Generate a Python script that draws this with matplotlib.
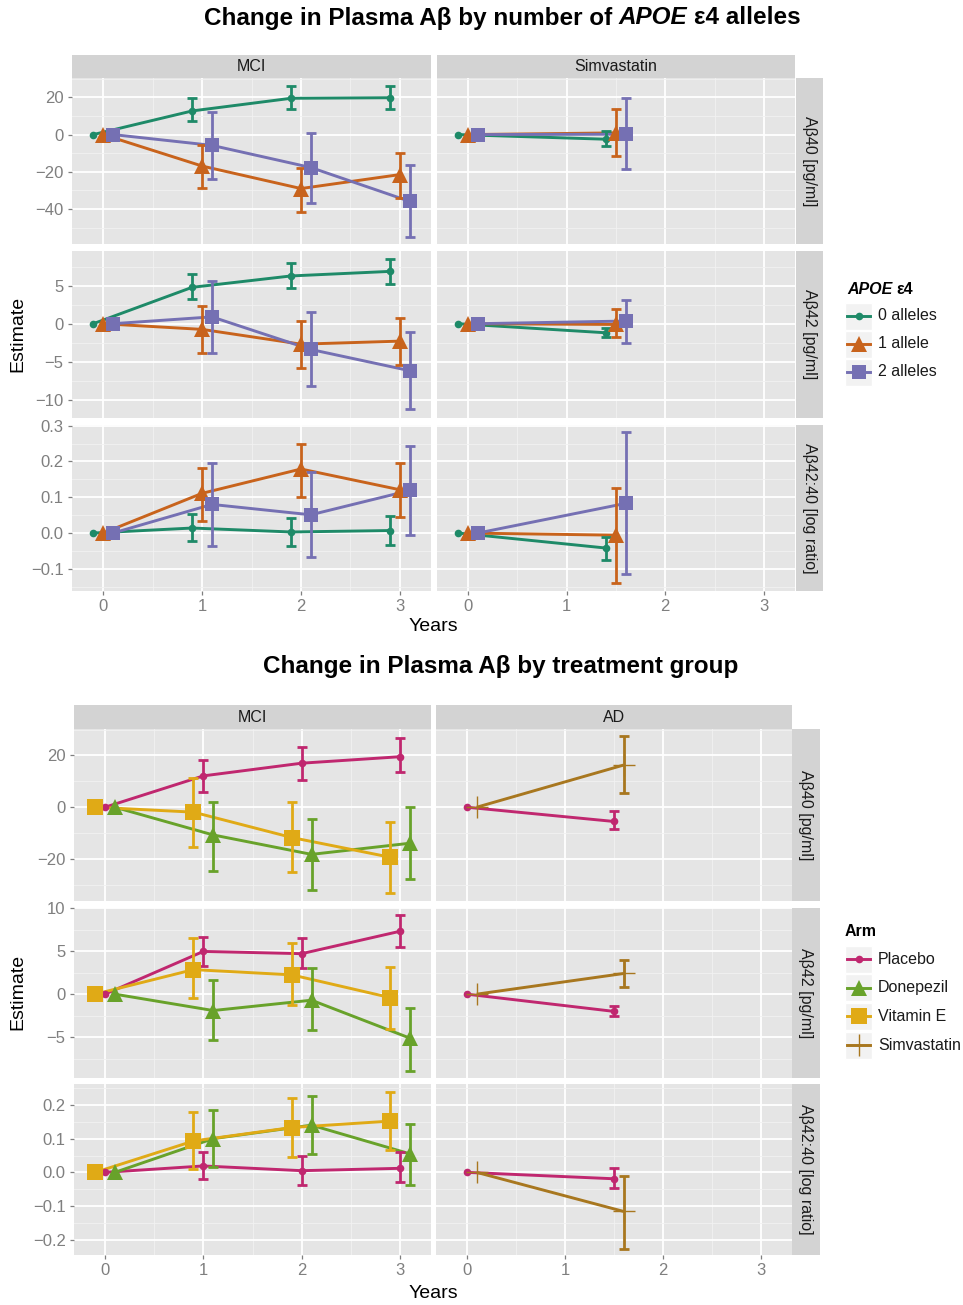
import matplotlib
matplotlib.use('Agg')
import matplotlib.pyplot as plt
from matplotlib.patches import Rectangle
import numpy as np

# ---------------- DATA ----------------
years = [0, 1, 2, 3]
simva_years = [0, 1.5]
measures = ["Aβ40 [pg/ml]", "Aβ42 [pg/ml]", "Aβ42:40 [log ratio]"]

top_cols = ["MCI", "Simvastatin"]
apoe_labels = ["0 alleles", "1 allele", "2 alleles"]

# MCI, by APOE e4 alleles: rows = Ab40, Ab42, ratio
apoe0_mci_est = [[0, 12.7, 19.5, 19.8], [0, 4.8, 6.3, 6.9], [0, 0.014, 0.003, 0.007]]
apoe0_mci_lo = [[0, 7.3, 13.8, 13.5], [0, 3.3, 4.7, 5.3], [0, -0.023, -0.036, -0.034]]
apoe0_mci_hi = [[0, 19.4, 26.0, 26.3], [0, 6.5, 8.0, 8.6], [0, 0.054, 0.043, 0.048]]

apoe1_mci_est = [[0, -16.9, -29.0, -21.5], [0, -0.75, -2.7, -2.3], [0, 0.111, 0.179, 0.121]]
apoe1_mci_lo = [[0, -28.7, -41.6, -33.9], [0, -3.8, -5.8, -5.5], [0, 0.033, 0.100, 0.046]]
apoe1_mci_hi = [[0, -5.8, -17.7, -9.7], [0, 2.3, 0.4, 0.8], [0, 0.181, 0.250, 0.197]]

apoe2_mci_est = [[0, -5.8, -17.7, -35.9], [0, 0.9, -3.4, -6.2], [0, 0.080, 0.051, 0.119]]
apoe2_mci_lo = [[0, -23.7, -36.8, -55.0], [0, -3.9, -8.2, -11.3], [0, -0.035, -0.067, -0.005]]
apoe2_mci_hi = [[0, 12.2, 1.1, -16.1], [0, 5.6, 1.5, -1.1], [0, 0.196, 0.170, 0.244]]

# Simvastatin trial, by APOE e4 alleles
apoe0_sim_est = [[0, -2.5], [0, -1.2], [0, -0.042]]
apoe0_sim_lo = [[0, -6.3], [0, -1.75], [0, -0.074]]
apoe0_sim_hi = [[0, 1.8], [0, -0.57], [0, -0.011]]

apoe1_sim_est = [[0, 0.9], [0, -0.1], [0, -0.006]]
apoe1_sim_lo = [[0, -11.5], [0, -1.8], [0, -0.139]]
apoe1_sim_hi = [[0, 14.0], [0, 2.0], [0, 0.125]]

apoe2_sim_est = [[0, 0.2], [0, 0.35], [0, 0.083]]
apoe2_sim_lo = [[0, -18.5], [0, -2.5], [0, -0.115]]
apoe2_sim_hi = [[0, 19.4], [0, 3.1], [0, 0.283]]

bot_cols = ["MCI", "AD"]
arm_labels = ["Placebo", "Donepezil", "Vitamin E", "Simvastatin"]

placebo_mci_est = [[0, 12.1, 17.0, 19.5], [0, 4.96, 4.7, 7.3], [0, 0.019, 0.005, 0.012]]
placebo_mci_lo = [[0, 6.0, 10.5, 13.5], [0, 3.3, 3.0, 5.5], [0, -0.020, -0.038, -0.028]]
placebo_mci_hi = [[0, 18.3, 23.4, 26.6], [0, 6.6, 6.5, 9.2], [0, 0.061, 0.048, 0.060]]

donepezil_mci_est = [[0, -10.7, -18.2, -13.9], [0, -1.9, -0.7, -5.1], [0, 0.100, 0.140, 0.055]]
donepezil_mci_lo = [[0, -24.6, -31.9, -27.7], [0, -5.3, -4.2, -8.9], [0, 0.015, 0.054, -0.036]]
donepezil_mci_hi = [[0, 2.2, -4.5, -0.1], [0, 1.66, 3.0, -1.6], [0, 0.185, 0.227, 0.142]]

vite_mci_est = [[0, -1.9, -11.7, -19.3], [0, 2.85, 2.24, -0.4], [0, 0.093, 0.133, 0.152]]
vite_mci_lo = [[0, -15.2, -25.1, -33.1], [0, -0.5, -1.2, -4.0], [0, 0.009, 0.045, 0.065]]
vite_mci_hi = [[0, 11.2, 2.0, -5.6], [0, 6.5, 5.9, 3.2], [0, 0.178, 0.220, 0.239]]

placebo_ad_est = [[0, -5.5], [0, -2.0], [0, -0.019]]
placebo_ad_lo = [[0, -8.5], [0, -2.5], [0, -0.045]]
placebo_ad_hi = [[0, -1.4], [0, -1.4], [0, 0.014]]

simva_ad_est = [[0, 16.3], [0, 2.4], [0, -0.116]]
simva_ad_lo = [[0, 5.4], [0, 0.8], [0, -0.226]]
simva_ad_hi = [[0, 27.5], [0, 4.0], [0, -0.010]]

# tick labels
top_yticks = [[-40, -20, 0, 20], [-10, -5, 0, 5], [-0.1, 0.0, 0.1, 0.2, 0.3]]
top_yticklabels = [["−40", "−20", "0", "20"], ["−10", "−5", "0", "5"],
                   ["−0.1", "0.0", "0.1", "0.2", "0.3"]]
bot_yticks = [[-20, 0, 20], [-5, 0, 5, 10], [-0.2, -0.1, 0.0, 0.1, 0.2]]
bot_yticklabels = [["−20", "0", "20"], ["−5", "0", "5", "10"],
                   ["−0.2", "−0.1", "0.0", "0.1", "0.2"]]
xticklabels = ["0", "1", "2", "3"]

# ---------------- STYLE ----------------
W, H = 963, 1305
plt.rcParams['font.family'] = ['Liberation Sans', 'DejaVu Sans']

C_GREEN, C_ORANGE, C_PURPLE = '#1E8A68', '#C8631C', '#7570B3'
C_PLAC, C_DONE, C_VITE, C_SIMV = '#C0276F', '#68A22A', '#E0AA16', '#A8771F'
PANEL_BG = '#E5E5E5'
STRIP_BG = '#D3D3D3'
TICK_C = '#7F7F7F'

fig = plt.figure(figsize=(W / 100, H / 100), dpi=100)
fig.patch.set_facecolor('white')


def rect(x0, y0, x1, y1):
    return [x0 / W, 1 - y1 / H, (x1 - x0) / W, (y1 - y0) / H]


def style_panel(ax, ylim, yticks, ylabels, show_y, show_x):
    ax.set_facecolor(PANEL_BG)
    ax.set_xlim(-0.315, 3.315)
    ax.set_ylim(*ylim)
    ax.set_xticks(years)
    ax.set_xticklabels(xticklabels)
    ax.set_xticks([0.5, 1.5, 2.5], minor=True)
    ax.set_yticks(yticks)
    ax.set_yticklabels(ylabels)
    step = yticks[1] - yticks[0]
    mn = [t + step / 2 for t in [yticks[0] - step] + list(yticks)]
    mn = [m for m in mn if ylim[0] < m < ylim[1]]
    ax.set_yticks(mn, minor=True)
    ax.grid(True, which='major', color='white', lw=1.3)
    ax.grid(True, which='minor', color='#F2F2F2', lw=0.6)
    ax.set_axisbelow(True)
    for s in ax.spines.values():
        s.set_visible(False)
    ax.tick_params(which='minor', length=0)
    ax.tick_params(which='major', length=3, width=0.9, color=TICK_C,
                   labelcolor=TICK_C, labelsize=12, pad=3)
    if not show_y:
        ax.tick_params(axis='y', which='major', length=0, labelleft=False)
    if not show_x:
        ax.tick_params(axis='x', which='major', length=0, labelbottom=False)


def top_strip(x0, x1, y0, y1, label):
    a = fig.add_axes(rect(x0, y0, x1, y1))
    a.set_facecolor(STRIP_BG)
    a.set_xticks([]); a.set_yticks([])
    for s in a.spines.values():
        s.set_visible(False)
    a.text(0.5, 0.5, label, ha='center', va='center', fontsize=11.5, color='#1A1A1A',
           transform=a.transAxes)


def right_strip(x0, x1, y0, y1, label):
    a = fig.add_axes(rect(x0, y0, x1, y1))
    a.set_facecolor(STRIP_BG)
    a.set_xticks([]); a.set_yticks([])
    for s in a.spines.values():
        s.set_visible(False)
    a.text(0.5, 0.5, label, ha='center', va='center', fontsize=11.5, color='#1A1A1A',
           rotation=270, transform=a.transAxes)


def draw_group(ax, xs, off, est, lo, hi, color, marker, ms, lw=2.1):
    x = np.array(xs, dtype=float) + off
    est = np.array(est, dtype=float)
    lo = np.array(lo, dtype=float)
    hi = np.array(hi, dtype=float)
    ax.plot(x, est, color=color, lw=lw, zorder=3, solid_capstyle='butt')
    m = hi > lo
    ax.errorbar(x[m], est[m], yerr=[est[m] - lo[m], hi[m] - est[m]], fmt='none',
                ecolor=color, elinewidth=2.0, capsize=3.6, capthick=2.0, zorder=4)
    if marker == '+':
        ax.plot(x, est, linestyle='none', marker='+', ms=ms, mew=1.0, color=color, zorder=5)
    else:
        ax.plot(x, est, linestyle='none', marker=marker, ms=ms, mew=0, color=color, zorder=5)


# ---------------- TOP CHART ----------------
top_x = [(72, 431), (437, 795)]
top_y = [(78, 244), (251, 418), (425, 591)]
top_ylims = [(-58.8, 30.4), (-12.44, 9.59), (-0.162, 0.302)]

top_groups_mci = [
    (apoe0_mci_est, apoe0_mci_lo, apoe0_mci_hi, C_GREEN, 'o', 5.5, -0.1),
    (apoe1_mci_est, apoe1_mci_lo, apoe1_mci_hi, C_ORANGE, '^', 11, 0.0),
    (apoe2_mci_est, apoe2_mci_lo, apoe2_mci_hi, C_PURPLE, 's', 9.5, 0.1),
]
top_groups_sim = [
    (apoe0_sim_est, apoe0_sim_lo, apoe0_sim_hi, C_GREEN, 'o', 5.5, -0.1),
    (apoe1_sim_est, apoe1_sim_lo, apoe1_sim_hi, C_ORANGE, '^', 11, 0.0),
    (apoe2_sim_est, apoe2_sim_lo, apoe2_sim_hi, C_PURPLE, 's', 9.5, 0.1),
]

for ci, (x0, x1) in enumerate(top_x):
    top_strip(x0, x1, 55, 78, top_cols[ci])
    for ri, (y0, y1) in enumerate(top_y):
        ax = fig.add_axes(rect(x0, y0, x1, y1))
        style_panel(ax, top_ylims[ri], top_yticks[ri], top_yticklabels[ri],
                    show_y=(ci == 0), show_x=(ri == 2))
        groups = top_groups_mci if ci == 0 else top_groups_sim
        xs = years if ci == 0 else simva_years
        for est, lo, hi, col, mk, ms, off in groups:
            draw_group(ax, xs, off, est[ri], lo[ri], hi[ri], col, mk, ms)
for ri, (y0, y1) in enumerate(top_y):
    right_strip(796, 823, y0, y1, measures[ri])

# ---------------- BOTTOM CHART ----------------
bot_x = [(74, 431), (436, 792)]
bot_y = [(729, 901), (908, 1078), (1084, 1255)]
bot_ylims = [(-36.2, 30.2), (-9.73, 9.88), (-0.245, 0.262)]

bot_groups_mci = [
    (placebo_mci_est, placebo_mci_lo, placebo_mci_hi, C_PLAC, 'o', 5.5, 0.0),
    (donepezil_mci_est, donepezil_mci_lo, donepezil_mci_hi, C_DONE, '^', 12, 0.1),
    (vite_mci_est, vite_mci_lo, vite_mci_hi, C_VITE, 's', 11, -0.1),
]
bot_groups_ad = [
    (placebo_ad_est, placebo_ad_lo, placebo_ad_hi, C_PLAC, 'o', 5.5, 0.0),
    (simva_ad_est, simva_ad_lo, simva_ad_hi, C_SIMV, '+', 16, 0.1),
]

for ci, (x0, x1) in enumerate(bot_x):
    top_strip(x0, x1, 705, 729, bot_cols[ci])
    for ri, (y0, y1) in enumerate(bot_y):
        ax = fig.add_axes(rect(x0, y0, x1, y1))
        style_panel(ax, bot_ylims[ri], bot_yticks[ri], bot_yticklabels[ri],
                    show_y=(ci == 0), show_x=(ri == 2))
        groups = bot_groups_mci if ci == 0 else bot_groups_ad
        xs = years if ci == 0 else simva_years
        for est, lo, hi, col, mk, ms, off in groups:
            draw_group(ax, xs, off, est[ri], lo[ri], hi[ri], col, mk, ms)
for ri, (y0, y1) in enumerate(bot_y):
    right_strip(792, 820, y0, y1, measures[ri])

# ---------------- TEXT ----------------
fig.canvas.draw()
renderer = fig.canvas.get_renderer()


def text_width(s, **kw):
    t = fig.text(0, 0, s, **kw)
    w = t.get_window_extent(renderer).width
    t.remove()
    return w


def mixed_text(pieces, x, cy, size, align='center'):
    """pieces: list of (string, fontstyle, gap_before_in_spaces)"""
    kw = dict(fontsize=size, fontweight='bold')
    sp = text_width('n n', **kw) - text_width('nn', **kw)
    texts, widths = [], []
    for s, st, gap in pieces:
        t = fig.text(0, 1 - cy / H, s, fontsize=size, fontweight='bold', fontstyle=st,
                     ha='left', va='center')
        texts.append((t, gap))
        widths.append(t.get_window_extent(renderer).width)
    total = sum(widths) + sum(g for _, g in texts) * sp
    xx = x - total / 2 if align == 'center' else x
    for (t, gap), w in zip(texts, widths):
        xx += gap * sp
        t.set_x(xx / W)
        xx += w


mixed_text([("Change in Plasma Aβ by number of", 'normal', 0),
            ("APOE", 'italic', 1), ("ε4 alleles", 'normal', 1)], 502, 18, 17.5)
fig.text(501 / W, 1 - 667 / H, "Change in Plasma Aβ by treatment group", fontsize=17.5,
         fontweight='bold', ha='center', va='center')

fig.text(18 / W, 1 - 334 / H, "Estimate", rotation=90, fontsize=14, ha='center', va='center')
fig.text(18 / W, 1 - 992 / H, "Estimate", rotation=90, fontsize=14, ha='center', va='center')
fig.text(433 / W, 1 - 627 / H, "Years", fontsize=14, ha='center', va='center')
fig.text(433 / W, 1 - 1293 / H, "Years", fontsize=14, ha='center', va='center')

# ---------------- LEGENDS ----------------
ov = fig.add_axes([0, 0, 1, 1])
ov.set_xlim(0, W)
ov.set_ylim(H, 0)
ov.axis('off')
ov.patch.set_alpha(0)


def legend_entry(xk, yc, color, marker, ms, label, plus=False):
    ov.add_patch(Rectangle((xk, yc - 13.5), 27, 27, facecolor='#F2F2F2',
                           edgecolor='white', lw=1, zorder=1))
    ov.plot([xk + 2, xk + 25], [yc, yc], color=color, lw=2.1, zorder=2)
    if plus:
        ov.plot([xk + 13.5], [yc], marker='+', ms=ms, mew=1.0, color=color, zorder=3)
    else:
        ov.plot([xk + 13.5], [yc], marker=marker, ms=ms, mew=0, color=color, zorder=3)
    ov.text(xk + 33, yc, label, fontsize=11.5, va='center', ha='left', color='#1A1A1A')


mixed_text([("APOE", 'italic', 0), ("ε4", 'normal', 1)], 847, 290, 11.5, align='left')
top_leg = [(C_GREEN, 'o', 5.5), (C_ORANGE, '^', 11), (C_PURPLE, 's', 9.5)]
for i, (c, mk, ms) in enumerate(top_leg):
    legend_entry(845, 316 + 28 * i, c, mk, ms, apoe_labels[i])

fig.text(845 / W, 1 - 931 / H, "Arm", fontsize=11.5, fontweight='bold', ha='left', va='center')
bot_leg = [(C_PLAC, 'o', 5.5, False), (C_DONE, '^', 12, False), (C_VITE, 's', 11, False),
           (C_SIMV, '+', 16, True)]
for i, (c, mk, ms, pl) in enumerate(bot_leg):
    legend_entry(845, 959 + 28.7 * i, c, mk, ms, arm_labels[i], plus=pl)

fig.savefig('out.png', dpi=100)
